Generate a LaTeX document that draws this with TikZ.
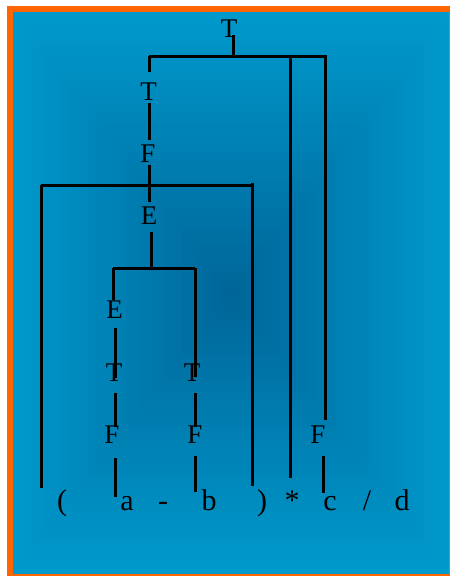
\documentclass[tikz,border=0pt]{standalone}
\usepackage{fontspec}
\setmainfont{Liberation Serif}
\definecolor{framecol}{RGB}{255,102,0}
\definecolor{ltblue}{RGB}{0,153,204}
\definecolor{dkblue}{RGB}{0,102,153}
\begin{document}
\begin{tikzpicture}[x=1pt,y=-1pt,
  lbl/.style={anchor=base,inner sep=0pt,font=\fontsize{27}{30}\selectfont},
  leaf/.style={anchor=base,inner sep=0pt,font=\fontsize{30}{34}\selectfont},
  edge/.style={line width=3pt}]
\useasboundingbox (0,0) rectangle (450,576);
\begin{scope}
\clip (0,0) rectangle (450,576);
\fill[white] (0,0) rectangle (450,576);
\foreach \i in {0,...,39}{
  \pgfmathsetmacro\p{100*\i/39}
  \pgfmathsetmacro\s{1-\i/40}
  \fill[dkblue!\p!ltblue] ({231-220*\s},{293-282*\s}) rectangle ({231+220*\s},{293+282*\s});
}
\draw[framecol, line width=6pt] (9.5,9) rectangle (452,577);
\end{scope}

% labels
\node[lbl] (t0) at (229,37) {T};
\node[lbl] (t1) at (148.5,100) {T};
\node[lbl] (f1) at (148,162) {F};
\node[lbl] (e1) at (149,224) {E};
\node[lbl] (e2) at (114.5,318) {E};
\node[lbl] (t2) at (114,381) {T};
\node[lbl] (t3) at (192,381) {T};
\node[lbl] (f2) at (112,443) {F};
\node[lbl] (f3) at (195,443) {F};
\node[lbl] (f4) at (318,443) {F};

% leaves
\node[leaf] (lp) at (62,510) {(};
\node[leaf] (la) at (127,510) {a};
\node[leaf] (lm) at (163,510) {-};
\node[leaf] (lb) at (209,510) {b};
\node[leaf] (lq) at (262,510) {)};
\node[leaf] (ls) at (292,510) {*};
\node[leaf] (lc) at (330,510) {c};
\node[leaf] (lv) at (367,510) {/};
\node[leaf] (ld) at (402,510) {d};

% joints
\coordinate (b1l) at (149,56);
\coordinate (b1m) at (233,56);
\coordinate (b1s) at (290,56);
\coordinate (b1c) at (325,56);
\coordinate (b1r) at (327,56);
\coordinate (b2l) at (41,185);
\coordinate (b2m) at (149,185);
\coordinate (b2r) at (252,185);
\coordinate (b3l) at (113,268);
\coordinate (b3m) at (151,268);
\coordinate (b3r) at (195,268);
\coordinate (eL) at (41,488);
\coordinate (eR) at (252,486);
\coordinate (eS) at (290,478);
\coordinate (colL) at (115,300);
\coordinate (colR) at (195,300);
\coordinate (colF) at (323,300);

% connectors
\draw[edge] ([xshift=4pt,yshift=2pt]t0.base) -- (b1m);
\draw[edge] (b1l) -- (b1r);
\draw[edge,shorten >=10pt] (b1l) -- (b1l |- t1.north);
\draw[edge,shorten <=3pt,shorten >=4pt] (b1l |- t1.south) -- (b1l |- f1.north);
\draw[edge,shorten <=3pt] (b2m |- f1.south) -- (b2m);
\draw[edge] (b2l) -- (b2r);
\draw[edge] (b2l) -- (eL);
\draw[edge] ([yshift=2pt]b2r) -- (eR);
\draw[edge,shorten >=4pt] (b2m) -- (b2m |- e1.north);
\draw[edge,shorten <=8pt] (b3m |- e1.south) -- (b3m);
\draw[edge] (b3l) -- (b3r);
\draw[edge] (b3l) -- (b3l |- e2.north);
\draw[edge,shorten <=10pt,shorten >=-15pt] (colL |- e2.south) -- (colL |- t2.north);
\draw[edge,shorten <=12pt,shorten >=-2pt] (colL |- t2.south) -- (colL |- f2.north);
\draw[edge,shorten <=15pt,shorten >=-1pt] (colL |- f2.south) -- (colL |- la.north);
\draw[edge,shorten >=-14pt] (b3r) -- (b3r |- t3.north);
\draw[edge,shorten <=12pt,shorten >=-2pt] (colR |- t3.south) -- (colR |- f3.north);
\draw[edge,shorten <=13pt,shorten >=-3.5pt] (colR |- f3.south) -- (colR |- lb.north);
\draw[edge] (b1s) -- (eS);
\draw[edge,shorten >=5pt] (b1c) -- (b1c |- f4.north);
\draw[edge,shorten <=13pt,shorten >=3pt] (colF |- f4.south) -- (colF |- lc.north);
\end{tikzpicture}
\end{document}
